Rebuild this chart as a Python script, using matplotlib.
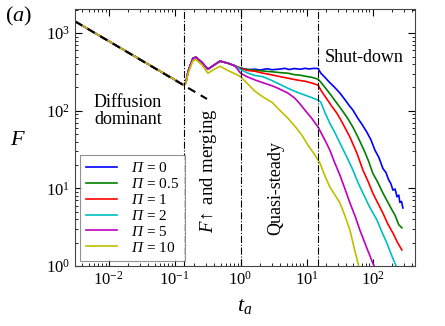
import numpy as np
import matplotlib
matplotlib.use("Agg")
import matplotlib.pyplot as plt

plt.rcParams['font.family'] = ['Liberation Serif', 'DejaVu Serif']
plt.rcParams['mathtext.fontset'] = 'custom'
plt.rcParams['mathtext.rm'] = 'Liberation Serif'
plt.rcParams['mathtext.it'] = 'Liberation Serif:italic'
plt.rcParams['mathtext.cal'] = 'Liberation Serif:italic'

# valeurs
pi_labels = ['0', '0.5', '1', '2', '5', '10']
colors = ['#0000ff', '#008000', '#ff0000', '#00bfbf', '#bf00bf', '#bfbf00']

# phase commune (diffusion + F montant / fusion)
t_early = [0.0031, 0.139, 0.149, 0.16, 0.171, 0.19, 0.211, 0.26, 0.32, 0.395, 0.488, 0.645, 0.82]
F_early = [1420, 214, 233, 317, 375, 475, 490, 420, 343, 387, 436, 410, 380]
t_early_y = [0.0031, 0.139, 0.149, 0.16, 0.171, 0.19, 0.211, 0.26, 0.32, 0.395, 0.488, 0.645, 0.82]
F_early_y = [1420, 214, 228, 300, 350, 440, 455, 390, 305, 340, 375, 330, 300]

# suite de chaque courbe
t_blue = [1.0, 1.3, 1.65, 2.0, 2.5, 3.0, 4.0, 4.7, 5.5, 6.5, 8.0, 9.5, 11.0, 13.0, 15.0, 16.5, 19, 22.0, 26,
          32.1, 38, 44, 50.5, 60, 70, 82.2, 95, 109, 125, 144, 160, 175, 190, 204, 220, 235, 250, 260, 275, 289]
F_blue = [355, 340, 343, 335, 348, 338, 345, 352, 340, 350, 343, 352, 346, 352, 350, 305, 270, 235, 205,
          169, 140, 118, 102, 80, 66, 53, 42, 31, 25, 18, 16, 13, 11.5, 9.5, 9.8, 7.8, 8.2, 6.6, 6.8, 5.6]
t_green = [1.0, 1.3, 1.65, 2.2, 3.0, 4.0, 5.23, 6.5, 8.0, 9.46, 12, 15.0, 16.5, 20, 24, 28.9, 35, 42, 50.5,
           60, 76.7, 88, 101, 120, 144, 165, 197, 220, 250, 279]
F_green = [353, 338, 333, 325, 318, 310, 305, 292, 288, 279, 270, 255, 233, 190, 155, 125, 100, 80, 61.5,
           46, 29.3, 22, 15.7, 12, 8.7, 7, 5.3, 4.5, 3.4, 3.1]
t_red = [1.0, 1.3, 1.65, 2.18, 3.0, 4.0, 5.23, 7.0, 9.46, 12, 15.0, 16.5, 20, 24, 28.9, 35, 45.5, 58.0,
         71.6, 85, 101, 120, 144, 170, 204, 240, 279]
F_red = [350, 330, 323, 305, 290, 275, 263, 250, 240, 228, 214, 184, 145, 115, 93, 70, 45.7, 28.5,
         17.2, 12.5, 8.7, 6.5, 4.8, 3.5, 2.66, 2.0, 1.61]
t_cyan = [1.0, 1.3, 1.65, 2.18, 3.0, 4.0, 5.23, 7.0, 9.46, 12, 15.0, 16.5, 19, 22.6, 27, 32.1, 40.9, 50.5,
          60, 71.6, 90, 117, 140, 165, 190, 218, 240]
F_cyan = [340, 305, 285, 275, 245, 218, 195, 175, 159, 148, 137, 129, 95, 69, 52, 38.3, 25.3, 17.2,
          12, 8.7, 5.8, 3.9, 2.7, 1.98, 1.45, 1.09, 0.9]
t_mag = [1.0, 1.25, 1.65, 2.18, 3.0, 3.69, 5.23, 6.67, 8.0, 9.46, 12, 15.0, 19.0, 22.6, 27, 32.1, 38,
         45.5, 55, 64.4, 80, 101, 112]
F_mag = [305, 275, 250, 230, 210, 195, 169, 145, 122, 102, 80, 61.5, 42, 31, 21, 14.8, 10,
         6.5, 4.3, 2.9, 1.8, 1.09, 0.9]
t_yel = [1.0, 1.25, 1.65, 2.2, 2.99, 4.0, 5.23, 6.8, 8.52, 10.5, 13, 16.0, 19, 22.6, 27, 32.1, 38, 45.5,
         52, 60.1, 64]
F_yel = [275, 227, 179, 150, 129, 100, 80, 62, 48.5, 36, 28, 21.2, 14.5, 10.4, 8.2, 6.5, 4.5, 2.9,
         1.8, 1.09, 0.9]

# droite de référence F ~ t^(-1/2)
t_ref = [0.0031, 0.31]
F_ref = [1420, 142]

t_phases = [0.14, 1.0, 15.0]

fig = plt.figure(figsize=(4.45, 3.26), dpi=100)
ax = fig.add_axes([0.1685, 0.184, 0.764, 0.788])

tails = [(t_blue, F_blue), (t_green, F_green), (t_red, F_red),
         (t_cyan, F_cyan), (t_mag, F_mag), (t_yel, F_yel)]
for i, (tt, FF) in enumerate(tails):
    if i == 5:
        t = t_early_y + tt
        F = F_early_y + FF
    else:
        t = t_early + tt
        F = F_early + FF
    ax.plot(t, F, color=colors[i], lw=1.2,
            label=r'$\mathcal{\Pi}\,=\,' + pi_labels[i] + '$')

ax.plot(t_ref, F_ref, color='black', lw=1.5, dashes=(4, 3))
for tp in t_phases:
    ax.axvline(tp, color='black', lw=0.8, ls='-.')

ax.set_xscale('log')
ax.set_yscale('log')
ax.set_xlim(0.0031, 440)
ax.set_ylim(1, 2040)

ax.tick_params(which='both', direction='in', top=True, right=True, labelsize=12)
ax.tick_params(which='major', length=5)
ax.tick_params(which='minor', length=2.5)
for sp in ax.spines.values():
    sp.set_color('#444444')

ax.set_xlabel(r'$t_a$', fontsize=16, labelpad=6)
ax.set_ylabel(r'$F$', fontsize=16, rotation=0)
ax.yaxis.set_label_coords(-0.168, 0.45)

ax.text(0.0197, 99, 'Diffusion\ndominant', fontsize=13, ha='center', va='center', linespacing=0.95)
ax.text(300, 490, 'Shut-down', fontsize=13, ha='right', va='center')
ax.text(0.33, 17, r'$F\!\uparrow$ and merging', fontsize=13.5, rotation=90, ha='center', va='center')
ax.text(3.46, 10, 'Quasi-steady', fontsize=13, rotation=90, ha='center', va='center')
fig.text(0.012, 0.935, r'$(a)$', fontsize=16)

leg = ax.legend(loc='lower left', fontsize=11, fancybox=False, edgecolor='#777777',
                handlelength=2.0, labelspacing=0.12, borderaxespad=0.35, handletextpad=0.9)
leg.get_frame().set_linewidth(0.8)

plt.savefig('out.png', dpi=100)
